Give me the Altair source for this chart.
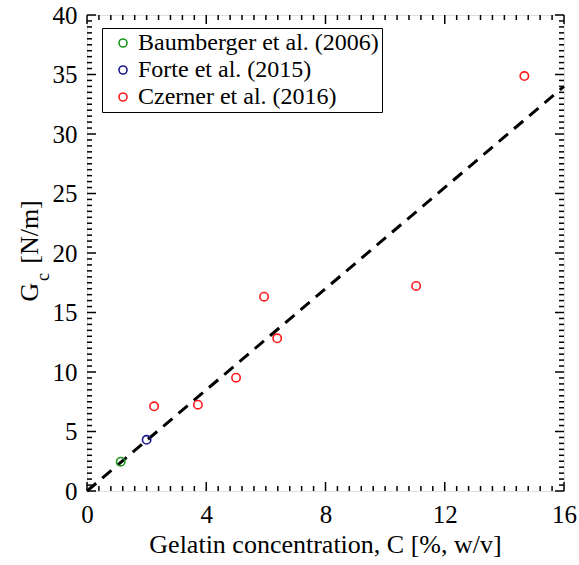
import altair as alt
import pandas as pd

# Measured fracture energy vs gelatin concentration
baum_c = [1.13]
baum_g = [2.46]
forte_c = [2.0]
forte_g = [4.3]
czerner_c = [2.25, 3.72, 5.0, 5.94, 6.38, 11.04, 14.67]
czerner_g = [7.12, 7.25, 9.52, 16.33, 12.83, 17.23, 34.87]

sources = ["Baumberger et al. (2006)", "Forte et al. (2015)", "Czerner et al. (2016)"]
colors = ["#1a961a", "#1a1a8c", "#ff1a1a"]

# Linear fit through the origin
fit_c = [0.0, 16.0]
fit_g = [0.0, 34.0]

x_major = [0, 4, 8, 12, 16]
y_major = [0, 5, 10, 15, 20, 25, 30, 35, 40]
x_minor = [round(0.4 * i, 2) for i in range(41) if i % 10 != 0]
y_minor = [0.5 * i for i in range(81) if i % 10 != 0]

W, H = 477, 476
FONT = "'Liberation Serif', 'DejaVu Serif', serif"

pts = pd.DataFrame({
    "C": baum_c + forte_c + czerner_c,
    "G": baum_g + forte_g + czerner_g,
    "src": [sources[0]] * len(baum_c) + [sources[1]] * len(forte_c) + [sources[2]] * len(czerner_c),
})
fit = pd.DataFrame({"C": fit_c, "G": fit_g})

xs = alt.Scale(domain=[0, 16], nice=False, zero=False)
ys = alt.Scale(domain=[0, 40], nice=False, zero=False)

x_axis = alt.Axis(values=x_major, ticks=False, domain=False, grid=False,
                  labelFont=FONT, labelFontSize=25, labelColor="black",
                  labelPadding=11, title=None, labelFlush=False)
y_axis = alt.Axis(values=y_major, ticks=False, domain=False, grid=False,
                  labelFont=FONT, labelFontSize=25, labelColor="black",
                  labelPadding=10, title=None, labelFlush=False)

base_x = alt.X("C:Q", scale=xs, axis=x_axis)
base_y = alt.Y("G:Q", scale=ys, axis=y_axis)

line = alt.Chart(fit).mark_line(color="black", strokeWidth=3, strokeDash=[12, 8]).encode(
    x=base_x, y=base_y)

points = alt.Chart(pts).mark_point(filled=False, size=70, strokeWidth=1.6, opacity=1).encode(
    x=alt.X("C:Q", scale=xs),
    y=alt.Y("G:Q", scale=ys),
    color=alt.Color("src:N", scale=alt.Scale(domain=sources, range=colors),
                    sort=sources,
                    legend=alt.Legend(orient="none", legendX=15, legendY=13, title=None,
                                      strokeColor="black", fillColor="white",
                                      padding=3, rowPadding=3, labelFont=FONT, labelFontSize=24,
                                      labelColor="black", labelOffset=3, symbolSize=64,
                                      symbolStrokeWidth=1.6, symbolType="circle",
                                      symbolFillColor="transparent", symbolOffset=6,
                                      labelLimit=400)),
)


def tick_layer(values, axis, side, length):
    df = pd.DataFrame({"v": values})
    ch = alt.Chart(df).mark_rule(color="black", strokeWidth=1.5)
    if axis == "x":
        enc = dict(x=alt.X("v:Q", scale=xs))
        if side == "bottom":
            enc.update(y=alt.value(H), y2=alt.value(H - length))
        else:
            enc.update(y=alt.value(0), y2=alt.value(length))
    else:
        enc = dict(y=alt.Y("v:Q", scale=ys))
        if side == "left":
            enc.update(x=alt.value(0), x2=alt.value(length))
        else:
            enc.update(x=alt.value(W), x2=alt.value(W - length))
    return ch.encode(**enc)


ticks = [
    tick_layer(x_major, "x", "bottom", 9), tick_layer(x_major, "x", "top", 9),
    tick_layer(x_minor, "x", "bottom", 5), tick_layer(x_minor, "x", "top", 5),
    tick_layer(y_major, "y", "left", 9), tick_layer(y_major, "y", "right", 9),
    tick_layer(y_minor, "y", "left", 5), tick_layer(y_minor, "y", "right", 5),
]

label_df = pd.DataFrame({"k": [0]})
x_title = alt.Chart(label_df).mark_text(
    text="Gelatin concentration, C [%, w/v]", font=FONT, fontSize=26, color="black",
    align="center", baseline="middle").encode(x=alt.value(W / 2), y=alt.value(H + 54))
y_title_g = alt.Chart(label_df).mark_text(
    text="G", font=FONT, fontSize=26, color="black", angle=270,
    align="center", baseline="middle").encode(x=alt.value(-57), y=alt.value(277))
y_title_c = alt.Chart(label_df).mark_text(
    text="c", font=FONT, fontSize=18, color="black", angle=270,
    align="center", baseline="middle").encode(x=alt.value(-43), y=alt.value(262))
y_title_u = alt.Chart(label_df).mark_text(
    text="[N/m]", font=FONT, fontSize=26, color="black", angle=270,
    align="center", baseline="middle").encode(x=alt.value(-57), y=alt.value(217))

chart = alt.layer(line, *ticks, points, x_title, y_title_g, y_title_c, y_title_u).properties(
    width=W, height=H,
    autosize=alt.AutoSizeParams(type="none"),
    padding={"left": 87, "top": 15, "right": 15, "bottom": 74},
).configure_view(stroke="black", strokeWidth=2).configure_legend(
    strokeWidth=1.5).configure(background="white", font=FONT)

chart.save("out.html", embed_options={"renderer": "svg", "actions": False})
